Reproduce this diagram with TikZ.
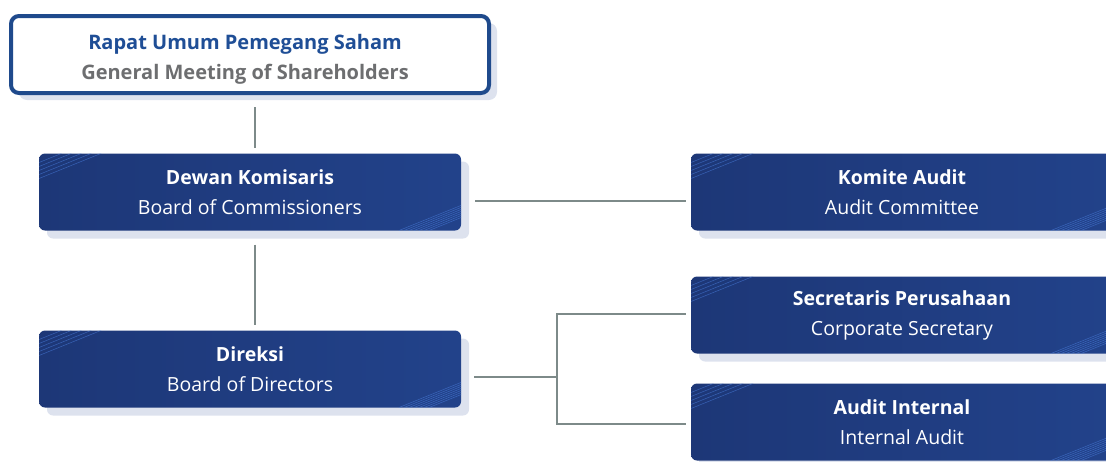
\documentclass[tikz,border=0pt]{standalone}
\usepackage{fontspec}
\setmainfont{Open Sans}
\usepackage{xcolor}
\usetikzlibrary{shadows}

\definecolor{navyA}{HTML}{1D3777}
\definecolor{navyB}{HTML}{22428A}
\definecolor{stripeblue}{HTML}{4A7FE0}
\definecolor{shadowgrey}{HTML}{DDE2EE}
\definecolor{rimblue}{HTML}{1F4A8C}
\definecolor{titleblue}{HTML}{1F4E96}
\definecolor{titlegrey}{HTML}{6D6E70}
\definecolor{wiregrey}{HTML}{7D8A89}

\begin{document}
\begin{tikzpicture}[x=1pt, y=-1pt,
  unit/.style={rectangle, rounded corners=6pt, minimum width=422pt, minimum height=77pt,
    left color=navyA, right color=navyB, text=white, align=center,
    font=\fontsize{19.5}{30}\selectfont,
    drop shadow={shadow xshift=8pt, shadow yshift=-8pt, fill=shadowgrey, opacity=1},
    path picture={
      \foreach \d in {0,4,...,16}
        \draw[stripeblue, opacity=0.6, line width=0.5pt]
          ([yshift=-(9+\d)*1pt]path picture bounding box.north west) -- ++(22:90pt);
      \foreach \d in {0,5,...,30}
        \draw[stripeblue, opacity=0.6, line width=0.5pt]
          ([xshift=-(32+\d)*1pt]path picture bounding box.south east) -- ++(22:110pt);
    }},
  gms/.style={rectangle, rounded corners=8pt, minimum width=478pt, minimum height=77pt,
    draw=rimblue, line width=4pt, fill=white, align=center,
    font=\fontsize{20}{30}\selectfont\bfseries,
    drop shadow={shadow xshift=8pt, shadow yshift=-7pt, fill=shadowgrey, opacity=1}},
  wire/.style={draw=wiregrey, line width=1.3pt}]
\useasboundingbox (0,0) rectangle (1106,461);

\node[gms] (rups) at (250,54.5) {};
\node[align=center, font=\fontsize{20}{30}\selectfont\bfseries] (rupstext) at (245,59)
  {\textcolor{titleblue}{Rapat Umum Pemegang Saham}\\\textcolor{titlegrey}{General Meeting of Shareholders}};

\node[unit] (dekom) at (250,192) {\textbf{Dewan Komisaris}\\Board of Commissioners};
\node[unit] (komaudit) at (902,192) {\textbf{Komite Audit}\\Audit Committee};
\node[unit] (direksi) at (250,369) {\textbf{Direksi}\\Board of Directors};
\node[unit] (sekper) at (902,315) {\textbf{Secretaris Perusahaan}\\Corporate Secretary};
\node[unit] (audint) at (902,422) {\textbf{Audit Internal}\\Internal Audit};

\coordinate (split) at (557,377);

\draw[wire] ([xshift=5pt, yshift=-12pt]rups.south) -- ([xshift=5pt, yshift=5pt]dekom.north);
\draw[wire] ([xshift=5pt, yshift=-14pt]dekom.south) -- ([xshift=5pt, yshift=5pt]direksi.north);
\draw[wire] ([xshift=14pt, yshift=-9pt]dekom.east) -- ([xshift=-5pt, yshift=-9pt]komaudit.west);
\draw[wire] ([xshift=13pt, yshift=-8pt]direksi.east) -- (split);
\draw[wire] ([xshift=-5pt, yshift=1pt]sekper.west) -| (split) |- ([xshift=-5pt, yshift=-2pt]audint.west);
\end{tikzpicture}
\end{document}
